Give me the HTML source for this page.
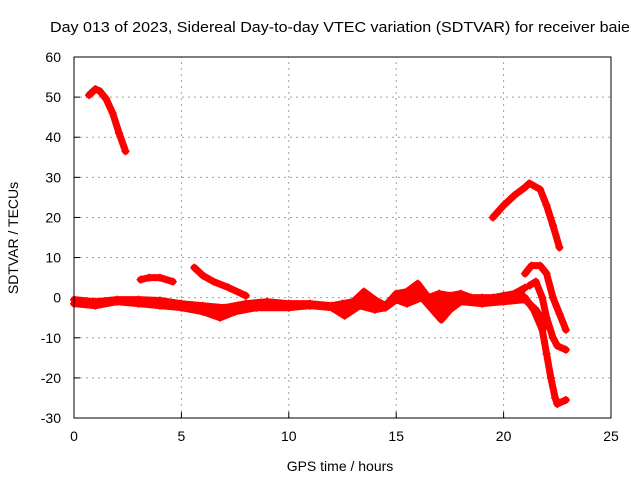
<!DOCTYPE html>
<html><head><meta charset="utf-8"><style>
body{margin:0;background:#fff}
svg{display:block;font-family:"Liberation Sans",sans-serif}
</style></head><body>
<svg id="chart" width="640" height="480">
<rect width="640" height="480" fill="#fff"/>
<text x="340" y="32" text-anchor="middle" font-size="14.5" textLength="580" lengthAdjust="spacingAndGlyphs">Day 013 of 2023, Sidereal Day-to-day VTEC variation (SDTVAR) for receiver baie</text>
<g id="grid"></g><g id="ticks"></g><g id="series"></g>
<rect x="74" y="57" width="537" height="361" fill="none" stroke="#000" stroke-width="1"/>
<text x="340" y="471" text-anchor="middle" font-size="14">GPS time / hours</text>
<text transform="translate(18,238) rotate(-90)" text-anchor="middle" font-size="14">SDTVAR / TECUs</text>
</svg>
<script>
const xTicks=[0,5,10,15,20,25];
const yTicks=[-30,-20,-10,0,10,20,30,40,50,60];
const trackA=[[0.7,50.5],[0.9,51.5],[1.0,52],[1.2,51.5],[1.5,49.5],[1.8,46],[2.1,41],[2.4,36.5]];
const trackB=[[3.1,4.5],[3.5,5],[4.0,5],[4.6,4]];
const trackC=[[5.6,7.5],[6.0,5.5],[6.5,4],[7.2,2.5],[8.0,0.5]];
const bandUpper=[[0,-0.5],[1,-1],[2,-0.5],[3,-0.5],[4,-0.7],[5,-1.5],[6,-2],[7,-2.5],[8,-1.5],[9,-1],[10,-1.5],[11,-1.5],[12,-2],[12.5,-1.5],[13,-1],[13.5,1.5],[14,-0.5],[14.5,-2],[15,1],[15.5,1.5],[16,3.5],[16.5,0],[17,1],[17.5,0.5],[18,1],[18.5,0],[19,0],[19.5,0],[20,0.5],[20.5,1],[21,2.5]];
const bandLower=[[0,-1.5],[1,-2],[2,-1],[3,-1.5],[4,-2],[5,-2.5],[6,-3.5],[6.8,-5],[7.5,-3.5],[8.5,-2.5],[10,-2.5],[11,-2],[12,-2.5],[12.6,-4.5],[13.3,-2],[14,-3],[14.5,-2.5],[15,-0.5],[15.5,-1.5],[16.2,0],[17.1,-5.5],[17.5,-3],[18,-1],[19,-1.5],[20,-1],[21,-0.5],[21.5,-3],[22,-7]];
const trackD=[[19.5,20],[20,23],[20.5,25.5],[21,27.5],[21.2,28.5],[21.7,27],[22,23],[22.3,18],[22.6,12.5]];
const trackE=[[21,6],[21.3,8],[21.7,8],[22,6],[22.3,0],[22.6,-4],[22.9,-8]];
const trackF=[[21.2,3],[21.5,4],[21.8,0],[22.0,-5],[22.3,-10],[22.5,-12],[22.9,-13]];
const trackG=[[21,0],[21.4,-3],[21.8,-8],[22,-14],[22.2,-20],[22.4,-25],[22.5,-26.5],[22.9,-25.5]];
const tracks=[["track-a",trackA],["track-b",trackB],["track-c",trackC],["band-upper",bandUpper],["band-lower",bandLower],["track-d",trackD],["track-e",trackE],["track-f",trackF],["track-g",trackG]];
const X0=74,X1=611,Y0=418,Y1=57;
const xs=v=>X0+(v-0)/25*(X1-X0);
const ys=v=>Y0-(v+30)/90*(Y0-Y1);
const NS="http://www.w3.org/2000/svg";
function mk(t,a,p){const e=document.createElementNS(NS,t);for(const k in a)e.setAttribute(k,a[k]);p.appendChild(e);return e;}
const grid=document.getElementById('grid'),ticks=document.getElementById('ticks'),ser=document.getElementById('series');
xTicks.forEach(v=>{const x=xs(v);
 if(v>0&&v<25){const g=mk('line',{x1:x,x2:x,y1:Y0,y2:Y1,stroke:'#a0a0a0','stroke-dasharray':'2,4'},grid);
 }
 const t=mk('line',{x1:x,x2:x,y1:Y0,y2:Y0-6,stroke:'#000'},ticks);
 
 const l=mk('text',{x:x,y:Y0+23,'text-anchor':'middle','font-size':14},ticks);l.textContent=v;
 });
yTicks.forEach(v=>{const y=ys(v);
 if(v>-30&&v<60){const g=mk('line',{x1:X0,x2:X1,y1:y,y2:y,stroke:'#a0a0a0','stroke-dasharray':'2,4'},grid);
 }
 const t=mk('line',{x1:X0,x2:X0+6,y1:y,y2:y,stroke:'#000'},ticks);
 
 const l=mk('text',{x:X0-13,y:y+5,'text-anchor':'end','font-size':14},ticks);l.textContent=v;
 });
const bandPts=bandUpper.filter(p=>p[0]<=21).map(p=>xs(p[0])+','+ys(p[1])).concat(bandLower.filter(p=>p[0]<=21).slice().reverse().map(p=>xs(p[0])+','+ys(p[1])));
const bf=mk('polygon',{points:bandPts.join(' '),fill:'#f00'},ser);


tracks.forEach(([name,pts])=>{
 const g=mk('g',{},ser);
 
 
 mk('polyline',{points:pts.map(p=>xs(p[0])+','+ys(p[1])).join(' '),fill:'none',stroke:'#f00','stroke-width':7,'stroke-linejoin':'round','stroke-linecap':'round'},g);
 pts.forEach(p=>{const x=xs(p[0]),y=ys(p[1]);
  const m=mk('path',{d:`M${x-4},${y}h8M${x},${y-4}v8`,stroke:'#f00','stroke-width':1.5},g);
  
  });
});
</script>
</body></html>
